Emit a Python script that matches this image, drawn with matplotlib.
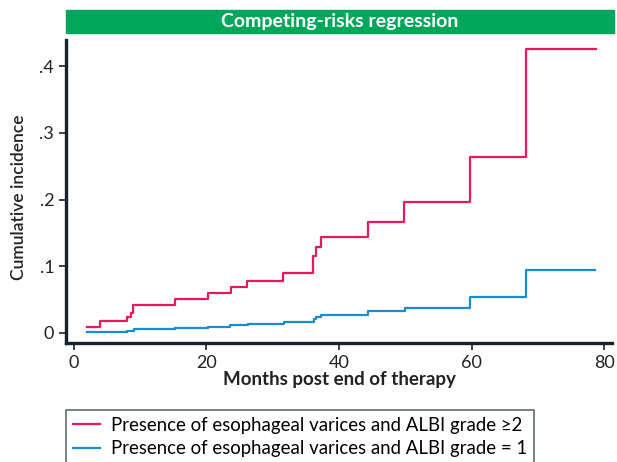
import matplotlib.pyplot as plt
from matplotlib.patches import Rectangle

plt.rcParams['font.family'] = ['Lato', 'DejaVu Sans']

# event times (months) and cumulative incidence after each step
t_red = [2, 4, 8, 8.6, 8.9, 15.2, 20.2, 23.7, 26.1, 31.5, 36.1, 36.5, 37.3, 44.4, 49.8, 59.7, 68.2, 78.8]
ci_red = [0.009, 0.018, 0.024, 0.030, 0.042, 0.051, 0.060, 0.069, 0.078, 0.090, 0.115, 0.129, 0.144,
          0.167, 0.196, 0.263, 0.426, 0.426]

t_blue = [2, 4, 8, 9, 15.2, 20.2, 23.6, 26.2, 31.7, 36.2, 36.5, 37.3, 44.4, 49.9, 59.7, 68.2, 78.7]
ci_blue = [0.001, 0.002, 0.0035, 0.0055, 0.0075, 0.0095, 0.012, 0.014, 0.0165, 0.021, 0.0245, 0.027,
           0.0325, 0.037, 0.0535, 0.0945, 0.0945]

labels = ["Presence of esophageal varices and ALBI grade \u22652",
          "Presence of esophageal varices and ALBI grade = 1"]
red = "#E8195B"
blue = "#1A8BCB"
dark = "#14222E"

fig = plt.figure(figsize=(6.17, 4.62), dpi=100)
ax = fig.add_axes([66 / 617, 1 - 343 / 462, (612 - 66) / 617, (343 - 40) / 462])

ax.step(t_red, ci_red, where='post', color=red, lw=1.6, label=labels[0])
ax.step(t_blue, ci_blue, where='post', color=blue, lw=1.6, label=labels[1])

ax.set_xlim(-1.2, 81.2)
ax.set_ylim(-0.015, 0.439)
ax.set_xticks([0, 20, 40, 60, 80])
ax.set_yticks([0, 0.1, 0.2, 0.3, 0.4])
ax.set_yticklabels(["0", ".1", ".2", ".3", ".4"])
ax.tick_params(direction='out', length=5, width=1.2, color=dark, labelsize=13, labelcolor="#222222")
for s in ['top', 'right']:
    ax.spines[s].set_visible(False)
for s in ['left', 'bottom']:
    ax.spines[s].set_linewidth(2.4)
    ax.spines[s].set_color(dark)

ax.set_xlabel("Months post end of therapy", fontsize=13.5, fontweight='bold', color="#222222", labelpad=0)
ax.set_ylabel("Cumulative incidence", fontsize=12.5, fontweight='semibold', color="#222222")
ax.yaxis.set_label_coords(-0.071, 0.48)

# green title band
fig.patches.append(Rectangle((66 / 617, 1 - 33 / 462), (614 - 66) / 617, 23 / 462,
                             transform=fig.transFigure, color="#00A65A", zorder=0))
fig.text((66 + 614) / 2 / 617, 1 - 21.5 / 462, "Competing-risks regression", color="white",
         fontsize=14, fontweight='bold', ha='center', va='center')

leg = fig.legend(loc='upper left', bbox_to_anchor=(66 / 617, 1 - 409.5 / 462), fontsize=13.4,
                 frameon=True, fancybox=False, handlelength=1.4, borderpad=0.4, borderaxespad=0,
                 labelspacing=0.35, handletextpad=0.6)
leg.get_frame().set_edgecolor("#3a4550")
leg.get_frame().set_linewidth(1.2)

fig.savefig("out.png", dpi=100)
